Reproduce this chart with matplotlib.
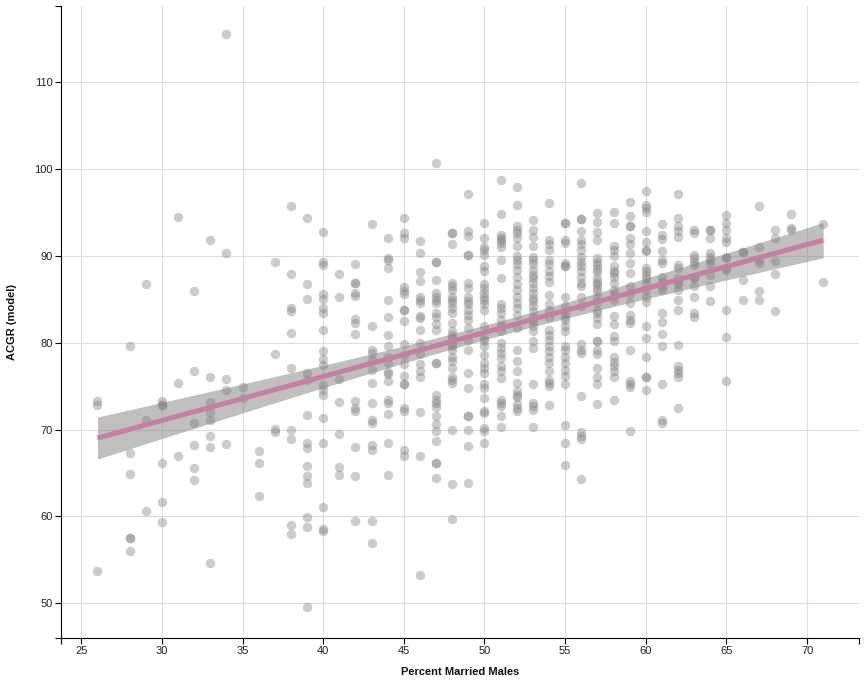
import numpy as np
import matplotlib
matplotlib.use("Agg")
import matplotlib.pyplot as plt

plt.rcParams['font.family'] = ['Liberation Sans', 'DejaVu Sans']

# Observed points: x value (Percent Married Males) -> list of ACGR values
points_by_x = {
    26: [73.3, 72.8, 53.7],
    28: [79.6, 67.3, 64.9, 57.5, 57.5, 56.0],
    29: [86.7, 71.1, 60.6],
    30: [73.3, 72.8, 72.8, 66.2, 61.7, 59.3],
    31: [94.5, 75.4, 67.0],
    32: [86.0, 76.7, 70.8, 68.2, 65.6, 64.2],
    33: [91.8, 76.0, 73.2, 72.0, 71.1, 69.2, 68.0, 54.6],
    34: [115.5, 90.3, 75.8, 74.6, 68.3],
    35: [74.9, 73.6],
    36: [67.5, 66.2, 62.3],
    37: [89.3, 78.7, 70.1, 69.7],
    38: [95.7, 87.9, 84.0, 83.6, 81.1, 77.1, 69.9, 68.9, 59.0, 58.0],
    39: [94.4, 86.7, 85.0, 76.5, 75.7, 71.7, 68.5, 67.9, 65.8, 64.7, 63.9,
         59.9, 58.8, 49.6],
    40: [92.7, 89.3, 88.9, 85.6, 85.0, 84.0, 83.4, 81.5, 79.0, 78.1, 77.4,
         75.1, 74.6, 74.0, 71.3, 68.4, 61.1, 58.5, 58.3],
    41: [87.9, 85.2, 75.8, 73.2, 69.5, 65.7, 64.8],
    42: [89.0, 86.9, 86.9, 85.7, 85.4, 82.7, 82.3, 81.0, 73.3, 72.5, 72.1,
         68.0, 64.7, 59.5],
    43: [93.7, 81.9, 79.2, 78.8, 78.0, 76.9, 75.3, 73.1, 71.1, 70.8, 68.2,
         67.7, 59.5, 56.9],
    44: [92.0, 89.7, 89.5, 88.6, 84.9, 82.9, 80.9, 79.6, 78.4, 77.7, 76.6,
         76.4, 75.6, 73.4, 73.1, 71.8, 68.5, 64.8],
    45: [94.3, 92.6, 92.0, 86.4, 86.0, 85.6, 83.7, 83.7, 82.5, 79.8, 78.6,
         77.5, 76.2, 75.2, 75.2, 72.5, 72.1, 67.6, 66.9],
    46: [91.7, 90.3, 88.1, 87.1, 85.3, 84.9, 84.6, 83.1, 82.8, 81.5, 80.0,
         78.7, 77.5, 76.7, 76.1, 72.0, 67.0, 53.3],
    47: [100.7, 89.3, 89.3, 87.2, 85.7, 85.3, 84.9, 84.6, 83.4, 83.0, 82.1,
         81.5, 77.6, 77.6, 74.0, 73.4, 73.1, 72.6, 71.5, 70.6, 69.8, 68.7,
         66.1, 66.1, 64.4],
    48: [92.6, 92.6, 91.3, 86.9, 86.5, 86.1, 85.3, 84.9, 84.6, 84.0, 83.4,
         82.3, 81.3, 80.9, 80.5, 80.0, 79.6, 79.2, 78.4, 77.9, 77.1, 76.1,
         75.7, 75.4, 69.9, 63.7, 59.7],
    49: [97.1, 92.9, 92.3, 90.1, 90.1, 86.9, 86.3, 85.3, 84.8, 84.4, 83.8,
         83.2, 82.6, 81.7, 80.3, 79.2, 76.5, 74.8, 71.5, 71.5, 70.0, 68.1,
         63.9],
    50: [93.8, 92.1, 91.0, 90.7, 90.1, 88.8, 88.2, 86.7, 86.3, 85.7, 85.3,
         84.9, 84.4, 83.8, 81.9, 80.5, 80.2, 79.6, 78.6, 77.7, 77.1, 76.5,
         75.2, 74.8, 73.6, 72.1, 71.9, 70.2, 69.8, 68.5],
    51: [98.7, 94.8, 92.4, 92.1, 91.8, 91.5, 91.0, 89.5, 87.4, 84.4, 84.0,
         83.4, 82.6, 81.9, 81.3, 80.0, 79.4, 78.8, 78.2, 77.3, 76.7, 75.9,
         73.4, 73.1, 72.7, 71.6, 70.3],
    52: [97.9, 95.9, 93.4, 93.0, 92.6, 92.0, 91.1, 90.0, 89.5, 89.0, 88.4,
         87.6, 86.7, 86.1, 85.3, 84.6, 84.0, 83.2, 81.7, 79.1, 77.9, 76.7,
         75.4, 74.4, 74.0, 73.8, 72.9, 72.5, 72.1],
    53: [94.1, 93.0, 92.2, 91.1, 89.9, 89.5, 89.0, 88.4, 87.8, 87.4, 86.9,
         86.3, 85.7, 85.1, 84.8, 84.2, 83.6, 83.0, 82.5, 81.9, 81.3, 80.2,
         79.4, 75.2, 73.1, 72.7, 72.3, 70.3],
    54: [96.1, 91.8, 91.3, 90.7, 89.5, 89.0, 88.2, 87.7, 87.0, 85.5, 84.4,
         83.8, 83.0, 81.5, 80.9, 80.3, 79.6, 79.0, 78.4, 77.7, 76.7, 75.7,
         75.4, 75.0, 72.8],
    55: [93.8, 93.8, 91.8, 91.5, 89.2, 88.8, 88.8, 85.3, 84.2, 83.4, 83.0,
         82.6, 81.9, 81.3, 79.6, 79.2, 78.4, 77.7, 76.9, 76.2, 75.2, 70.5,
         68.5, 65.9],
    56: [98.4, 94.2, 94.2, 92.9, 91.8, 91.3, 90.7, 89.9, 89.3, 88.8, 88.2,
         87.6, 86.9, 86.5, 85.3, 84.2, 79.8, 79.2, 78.8, 73.9, 69.7, 69.3,
         68.9, 64.3],
    57: [94.9, 93.9, 92.7, 91.8, 89.7, 89.3, 88.9, 88.5, 88.1, 87.4, 87.0,
         86.7, 86.3, 85.9, 85.3, 84.7, 83.8, 83.4, 82.8, 82.2, 80.2, 80.2,
         79.2, 78.7, 77.1, 76.1, 75.2, 72.9],
    58: [95.0, 93.8, 91.1, 90.7, 90.0, 88.8, 88.2, 88.0, 87.6, 86.9, 86.1,
         85.5, 84.9, 83.1, 82.1, 80.8, 80.2, 78.4, 77.8, 77.3, 76.7, 76.1,
         73.4],
    59: [96.2, 94.6, 93.4, 93.4, 92.1, 91.3, 90.3, 89.2, 88.0, 86.5, 85.6,
         84.6, 83.2, 82.6, 82.3, 79.1, 75.6, 75.2, 74.9, 69.8],
    60: [97.4, 95.9, 95.5, 95.0, 92.9, 91.6, 90.7, 90.5, 88.6, 88.2, 87.8,
         87.4, 86.9, 86.1, 85.3, 84.7, 81.9, 80.5, 78.4, 76.0, 76.0, 74.6],
    61: [93.6, 92.4, 91.9, 90.5, 89.5, 89.2, 87.6, 87.0, 86.5, 86.1, 83.4,
         82.4, 81.0, 79.6, 75.2, 71.1, 70.8],
    62: [97.1, 94.3, 93.4, 92.8, 92.2, 88.9, 88.6, 87.4, 87.0, 86.7, 86.1,
         84.9, 83.8, 79.7, 77.3, 76.9, 76.5, 76.1, 72.5],
    63: [93.0, 92.6, 90.1, 89.7, 89.3, 88.9, 87.6, 87.4, 86.5, 85.3, 83.4,
         83.0],
    64: [93.0, 93.0, 92.0, 90.3, 89.9, 89.5, 89.0, 87.8, 86.5, 84.8],
    65: [94.7, 93.8, 93.0, 92.0, 91.6, 89.9, 89.7, 88.6, 88.4, 83.8, 80.7,
         75.6],
    66: [90.4, 90.4, 87.2, 84.9],
    67: [95.7, 91.0, 89.5, 89.2, 85.9, 84.9],
    68: [93.0, 92.0, 89.4, 87.9, 83.6],
    69: [94.8, 93.2, 93.0],
    71: [93.6, 87.0],
}

x_ticks = [25, 30, 35, 40, 45, 50, 55, 60, 65, 70]
y_ticks = [50, 60, 70, 80, 90, 100, 110]
x_label = "Percent Married Males"
y_label = "ACGR (model)"

x = np.array([k for k, vals in points_by_x.items() for _ in vals], dtype=float)
y = np.array([v for vals in points_by_x.values() for v in vals], dtype=float)

# linear regression with confidence band
n = len(x)
slope, intercept = np.polyfit(x, y, 1)
xs = np.linspace(x.min(), x.max(), 200)
ys = intercept + slope * xs
resid = y - (intercept + slope * x)
s = np.sqrt(np.sum(resid ** 2) / (n - 2))
sxx = np.sum((x - x.mean()) ** 2)
se = s * np.sqrt(1.0 / n + (xs - x.mean()) ** 2 / sxx)
ci = 2.6 * se

W, H = 865, 685
fig = plt.figure(figsize=(W / 100, H / 100), dpi=100)
ax = fig.add_axes([61.3 / W, 1 - 637.5 / H, (859.3 - 61.3) / W, (637.5 - 6) / H])

ax.scatter(x, y, s=47, color='#808080', alpha=0.4, linewidths=0, zorder=2)
ax.fill_between(xs, ys - ci, ys + ci, color='#808080', alpha=0.5,
                linewidth=0, zorder=3)
ax.plot(xs, ys, color='#c77ea3', linewidth=3.6, solid_capstyle='butt', zorder=4)

ax.set_xlim(23.76, 73.24)
ax.set_ylim(46.06, 118.75)
ax.set_xticks(x_ticks)
ax.set_yticks(y_ticks)
ax.set_xticks([23.76, 73.24], minor=True)
ax.set_yticks([46.06, 118.75], minor=True)
ax.tick_params(axis='both', which='both', direction='out', length=4.3,
               width=0.8, color='black', labelsize=8, labelcolor='#222222', pad=2)
ax.grid(True, which='major', color='#dddddd', linewidth=0.8, zorder=0)
ax.set_axisbelow(True)
for side in ('top', 'right'):
    ax.spines[side].set_visible(False)
for side in ('left', 'bottom'):
    ax.spines[side].set_linewidth(0.8)
    ax.spines[side].set_color('black')

ax.set_xlabel(x_label, fontsize=8, fontweight='bold', color='#111111')
ax.set_ylabel(y_label, fontsize=8, fontweight='bold', color='#111111')
ax.xaxis.set_label_coords(0.5, -0.047)
ax.yaxis.set_label_coords(-0.056, 0.5)

fig.savefig('out.png', dpi=100)
